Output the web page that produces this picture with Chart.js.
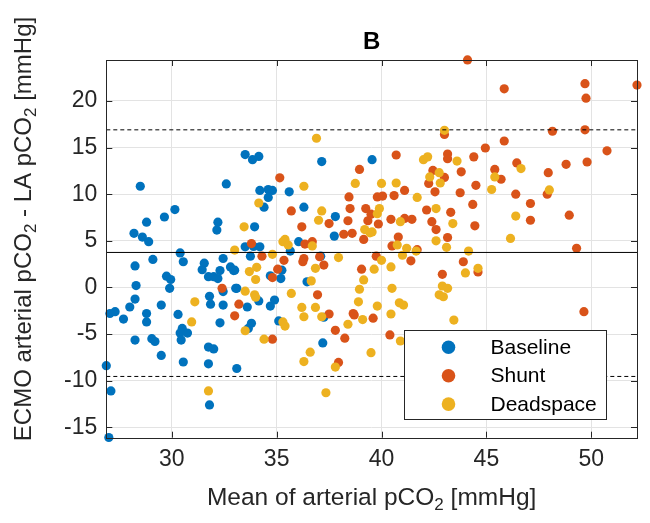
<!DOCTYPE html>
<html>
<head>
<meta charset="utf-8">
<script src="https://cdn.jsdelivr.net/npm/chart.js@4.4.1/dist/chart.umd.min.js"></script>
<style>
  body { margin: 0; background: #fff; }
  #c { display: block; }
</style>
</head>
<body>
<canvas id="c" width="650" height="523"></canvas>
<script>
// valores (x = media, y = diferencia)
var baseX = [26.88, 27.0, 27.1, 27.05, 27.3, 27.7, 28.0, 28.25, 28.8, 28.8, 28.25, 29.05, 29.2, 29.5, 30.55, 30.3, 30.5, 30.4, 30.75, 30.45,
  31.75, 32.0, 31.75, 31.8, 32.3, 33.1, 28.5, 32.6, 30.15, 29.65, 28.8, 32.2, 32.15, 28.2, 28.6, 28.9, 30.4, 30.55, 29.1, 28.25,
  29.75, 29.95, 29.9, 28.3, 29.5, 31.55, 31.45, 32.45, 32.8, 32.95, 32.3, 31.75, 32.0, 32.2, 33.05, 32.45, 31.8, 31.85, 32.45, 34.2,
  34.6, 34.8, 34.6, 34.4, 35.6, 36.3, 37.8, 37.75, 33.95, 33.5, 33.9, 34.2, 33.75, 36.05, 35.65, 37.1, 33.0, 34.7, 35.25, 35.2,
  36.45, 33.1, 33.6, 34.15, 34.7, 34.9, 33.5, 33.85, 34.15, 37.15, 39.55, 33.8, 33.65, 35.1, 37.25, 37.2];
var baseY = [-8.4, -16.1, -11.1, -2.8, -2.6, -3.4, -2.1, -1.25, -2.8, -3.7, -5.65, -5.5, -5.8, -7.3, -8.0, -2.9, -4.4, -4.9, -4.9, -5.65,
  -6.4, -6.6, -8.2, -12.6, -3.8, -8.7, 10.85, 11.1, 8.35, 7.55, 7.0, 7.0, 6.15, 5.8, 5.4, 4.9, 3.7, 2.75, 3.0, 2.3,
  1.2, 0.85, -0.1, 0.2, -1.9, 2.6, 1.9, 3.1, 2.2, 1.8, 1.8, 1.15, 1.15, 0.95, -0.1, -0.45, -0.95, -1.8, -1.9, 10.4,
  10.5, 10.4, 9.65, 8.6, 10.25, 8.6, 7.6, 5.5, 6.5, 4.35, 4.4, 4.35, 3.35, 4.9, 3.9, 3.35, 1.85, 1.25, 1.85, 0.95,
  0.6, -0.1, -2.1, -1.45, -2.0, -1.35, 14.25, 13.7, 14.05, 13.5, 13.7, -3.85, -4.4, -3.6, -3.2, -5.95];

var shuntX = [35.15, 38.95, 44.1, 45.85, 43.0, 45.85, 44.95, 40.7, 43.15, 43.15, 44.4, 42.45, 43.8, 45.4, 43.0, 42.25, 44.5, 45.7, 49.7, 49.75,
  52.18, 48.15, 49.7, 50.75, 46.45, 48.8, 49.8, 47.95, 46.4, 47.9, 47.1, 47.1, 48.95, 49.3, 49.65, 39.8, 40.05, 39.85, 40.6, 41.1,
  42.55, 43.75, 44.35, 44.45, 42.15, 43.3, 40.45, 41.1, 41.45, 42.4, 42.6, 43.15, 40.8, 40.5, 41.7, 39.75, 41.4, 43.9, 44.6, 42.9,
  39.6, 40.4, 38.45, 38.5, 39.25, 39.5, 39.35, 35.7, 37.5, 38.4, 36.2, 38.2, 38.6, 39.15, 33.8, 36.7, 36.35, 34.3, 35.35, 36.3,
  36.25, 37.05, 37.25, 35.05, 34.8, 39.05, 36.95, 38.65, 33.2, 32.4, 33.0, 34.8, 37.5, 37.8, 38.7, 38.25, 37.95];
var shuntY = [11.75, 12.65, 24.4, 21.3, 16.4, 15.7, 14.95, 14.2, 14.3, 13.8, 14.0, 12.55, 12.4, 12.65, 11.8, 11.15, 10.95, 11.6, 21.85, 20.3,
  21.7, 16.75, 16.9, 14.65, 13.35, 13.2, 13.45, 12.3, 10.0, 10.0, 9.0, 7.2, 7.75, 4.2, -2.6, 9.7, 9.8, 6.8, 9.85, 10.4,
  10.25, 10.15, 8.9, 6.6, 8.3, 8.05, 7.3, 7.4, 7.3, 7.05, 6.2, 5.35, 5.4, 4.45, 4.05, 3.35, 2.85, 2.75, 1.65, 1.4,
  -3.3, -5.1, 9.7, 8.45, 8.45, 7.85, 7.15, 8.2, 6.85, 7.15, 6.5, 5.7, 5.8, 5.15, 4.7, 4.9, 4.65, 3.35, 2.9, 3.1,
  2.75, 3.3, 2.4, 1.95, 1.05, 1.95, -0.8, -2.8, -1.8, -0.1, -3.05, -5.55, -2.85, -4.6, -2.95, -5.45, -8.05];

var deadX = [40.0, 40.7, 42.8, 45.25, 41.7, 39.8, 39.9, 42.6, 43.4, 40.9, 39.55, 42.6, 43.1, 40.75, 41.2, 41.0, 41.65, 44.15, 40.0, 40.45,
  39.65, 44.6, 44.0, 46.15, 42.9, 43.15, 42.75, 42.95, 40.5, 40.85, 41.05, 39.8, 40.45, 40.9, 43.45, 39.5, 36.3, 38.75, 34.15, 37.15,
  37.0, 33.45, 39.2, 39.45, 35.4, 35.3, 35.55, 36.7, 33.0, 34.8, 37.95, 34.05, 33.7, 34.0, 36.85, 36.65, 39.15, 38.95, 33.5, 33.95,
  34.0, 35.7, 38.9, 36.2, 36.85, 31.1, 30.95, 31.75, 33.5, 34.4, 35.3, 35.4, 36.3, 37.15, 38.4, 39.1, 36.6, 36.3, 37.8, 37.35,
  36.9, 43.0, 42.0, 42.2, 43.6, 42.3, 42.75, 45.4, 46.65, 48.0, 46.4];
var deadY = [11.15, 11.2, 11.2, 10.5, 9.65, 7.9, 8.45, 8.45, 6.85, 7.05, 5.95, 5.0, 4.3, 4.55, 4.2, 3.45, 3.9, 3.9, 2.9, 2.2,
  1.95, 2.05, 1.55, 5.25, 0.15, -0.1, -0.8, -1.0, -0.1, -1.65, -1.9, -2.0, -2.85, -5.75, -3.5, -7.0, 10.85, 11.15, 9.05, 8.2,
  7.2, 6.5, 6.2, 5.85, 5.15, 4.9, 4.55, 4.45, 4.0, 3.55, 3.2, 2.15, 1.7, 0.85, 2.05, 0.7, 0.8, -0.2, -0.4, -0.8,
  -1.05, -0.65, -1.55, -2.15, -2.15, -1.55, -3.7, -11.1, -4.65, -5.55, -3.7, -4.15, -3.15, -3.15, -3.95, -3.45, -6.95, -7.95, -8.55, -11.3,
  16.0, 16.85, 13.7, 14.0, 13.55, 11.85, 12.3, 11.85, 12.75, 10.45, 7.65];

var seriesNames = ["Baseline", "Shunt", "Deadspace"];
var meanDiff = 3.75;
var limitsDiff = [16.9, -9.55];
var xRange = [26.88, 52.18];
var yRange = [-16.12, 24.39];
var xTicks = [30, 35, 40, 45, 50];
var yTicks = [-15, -10, -5, 0, 5, 10, 15, 20];
var xLabel = "Mean of arterial pCO_2 [mmHg]";          // _2 = subindice, como en matlab
var yLabel = "ECMO arterial pCO_2 - LA pCO_2 [mmHg]";

var colores = ["#0072BD", "#D95319", "#EDB120"];
var fuente = "'Liberation Sans', Arial, Helvetica, sans-serif";
var gris = "#262626";

function puntos(xs, ys) {
    var out = [];
    for (var i = 0; i < xs.length; i++) out.push({ x: xs[i], y: ys[i] });
    return out;
}

function linea(y) { // linea horizontal de lado a lado
    return [{ x: xRange[0], y: y }, { x: xRange[1], y: y }];
}

function serie(nombre, xs, ys, color, orden) {
    return {
        label: nombre, data: puntos(xs, ys), backgroundColor: color, borderWidth: 0,
        pointRadius: 4.6, pointHoverRadius: 4.6, order: orden, clip: false, inLegend: true
    };
}

function refLinea(y, dash) {
    return {
        label: "", data: linea(y), showLine: true, pointRadius: 0, borderColor: "#000",
        borderWidth: 1, borderDash: dash, order: 0, inLegend: false
    };
}

// texto con subindices tipo tex (pCO_2), centrado en (0,0) del contexto actual
function textoTex(ctx, txt, size) {
    var partes = txt.split("_");
    var trozos = [{ t: partes[0], sub: false }];
    for (var i = 1; i < partes.length; i++) {
        trozos.push({ t: partes[i].charAt(0), sub: true });
        trozos.push({ t: partes[i].slice(1), sub: false });
    }
    var fNormal = size + "px " + fuente, fSub = Math.round(size * 0.7) + "px " + fuente;
    var total = 0;
    trozos.forEach(function (p) { ctx.font = p.sub ? fSub : fNormal; p.w = ctx.measureText(p.t).width; total += p.w; });
    var x = -total / 2;
    ctx.textAlign = "left";
    ctx.textBaseline = "alphabetic";
    trozos.forEach(function (p) {
        ctx.font = p.sub ? fSub : fNormal;
        ctx.fillText(p.t, x, p.sub ? size * 0.22 : 0);
        x += p.w;
    });
}

// marco con ticks hacia dentro, etiquetas de ejes y leyenda
var marco = {
    id: "marco",
    afterDraw: function (chart) {
        var ctx = chart.ctx, a = chart.chartArea;
        var sx = chart.scales.x, sy = chart.scales.y;
        ctx.save();
        ctx.strokeStyle = gris;
        ctx.lineWidth = 1;
        ctx.strokeRect(Math.round(a.left) + 0.5, Math.round(a.top) + 0.5, Math.round(a.right - a.left), Math.round(a.bottom - a.top));
        ctx.beginPath();
        xTicks.forEach(function (v) {
            var p = Math.round(sx.getPixelForValue(v)) + 0.5;
            ctx.moveTo(p, a.bottom); ctx.lineTo(p, a.bottom - 6);
            ctx.moveTo(p, a.top); ctx.lineTo(p, a.top + 6);
        });
        yTicks.forEach(function (v) {
            var p = Math.round(sy.getPixelForValue(v)) + 0.5;
            ctx.moveTo(a.left, p); ctx.lineTo(a.left + 6, p);
            ctx.moveTo(a.right, p); ctx.lineTo(a.right - 6, p);
        });
        ctx.stroke();

        // etiquetas de los ejes
        ctx.fillStyle = gris;
        ctx.save();
        ctx.translate((a.left + a.right) / 2, 505);
        textoTex(ctx, xLabel, 24.5);
        ctx.restore();
        ctx.save();
        ctx.translate(31, 229);
        ctx.rotate(-Math.PI / 2);
        textoTex(ctx, yLabel, 24);
        ctx.restore();

        // leyenda dentro del area
        var bx = 404.5, by = 330.5, bw = 202, bh = 89;
        ctx.fillStyle = "#fff";
        ctx.fillRect(bx, by, bw, bh);
        ctx.strokeStyle = gris;
        ctx.strokeRect(bx, by, bw, bh);
        ctx.font = "21px " + fuente;
        ctx.textAlign = "left";
        ctx.textBaseline = "middle";
        var fila = 0;
        chart.data.datasets.forEach(function (d) {
            if (!d.inLegend) return;
            var yy = by + 16.8 + fila * 28.4;
            ctx.fillStyle = d.backgroundColor;
            ctx.beginPath();
            ctx.arc(bx + 44, yy, 6.8, 0, Math.PI * 2);
            ctx.fill();
            ctx.fillStyle = "#000";
            ctx.fillText(d.label, bx + 86, yy + 1);
            fila++;
        });
        ctx.restore();
    }
};

var ctx = document.getElementById("c");
var grafico = new Chart(ctx, {
    type: "scatter",
    data: {
        datasets: [
            serie(seriesNames[0], baseX, baseY, colores[0], 3),
            serie(seriesNames[1], shuntX, shuntY, colores[1], 2),
            serie(seriesNames[2], deadX, deadY, colores[2], 1),
            refLinea(meanDiff, []),
            refLinea(limitsDiff[0], [4, 3]),
            refLinea(limitsDiff[1], [4, 3])
        ]
    },
    options: {
        responsive: false,
        animation: false,
        devicePixelRatio: 1,
        layout: { padding: { left: 0, right: 13, top: 0, bottom: 0 } },
        plugins: {
            legend: { display: false },
            tooltip: { enabled: false },
            title: {
                display: true, text: "B", fullSize: false, color: "#000",
                font: { family: fuente, size: 24, weight: "bold", lineHeight: 1.2 },
                padding: { top: 28, bottom: 3.2 }
            }
        },
        scales: {
            x: {
                type: "linear", min: xRange[0], max: xRange[1],
                afterBuildTicks: function (s) { s.ticks = xTicks.map(function (v) { return { value: v }; }); },
                afterFit: function (s) { s.height = 85.3; },
                grid: { color: "#e3e3e3", drawTicks: false },
                border: { display: false },
                ticks: { color: gris, font: { family: fuente, size: 23 }, padding: 8, maxRotation: 0 }
            },
            y: {
                type: "linear", min: yRange[0], max: yRange[1],
                afterBuildTicks: function (s) { s.ticks = yTicks.map(function (v) { return { value: v }; }); },
                afterFit: function (s) { s.width = 106.3; },
                grid: { color: "#e3e3e3", drawTicks: false },
                border: { display: false },
                ticks: { color: gris, font: { family: fuente, size: 23 }, padding: 9 }
            }
        }
    },
    plugins: [marco]
});
</script>
</body>
</html>
